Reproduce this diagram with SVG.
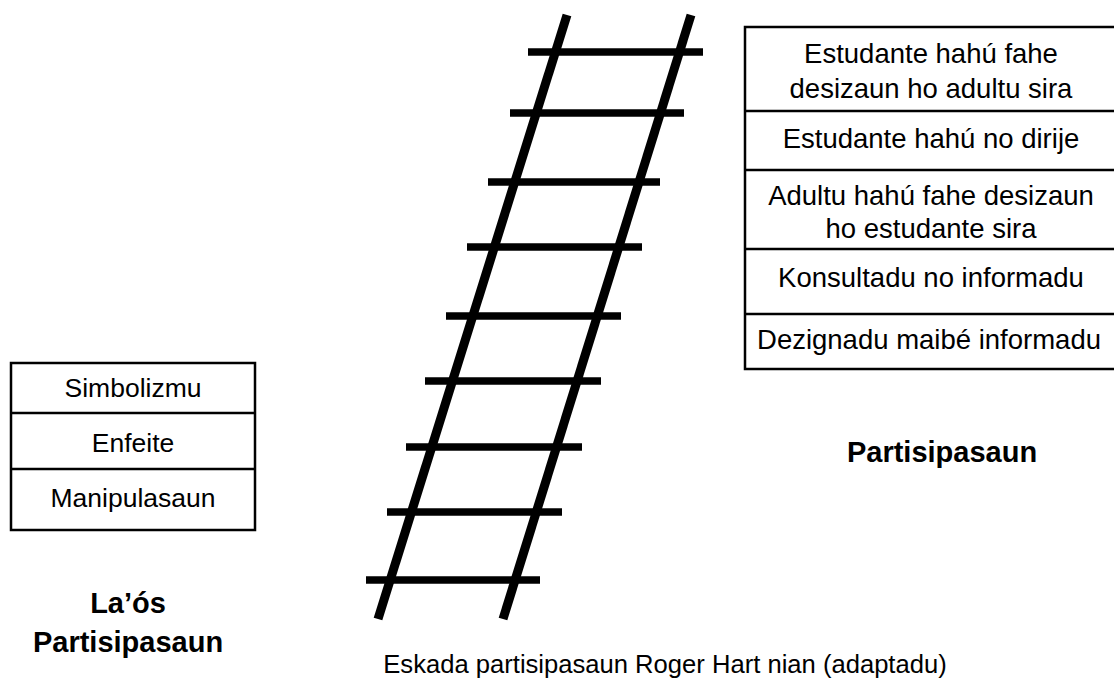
<svg xmlns="http://www.w3.org/2000/svg" width="1114" height="679" viewBox="0 0 1114 679">
<style>
.box{fill:#fff;stroke:#000;stroke-width:2.5}
.div{stroke:#000;stroke-width:2.5}
.t{font-family:"Liberation Sans",Arial,sans-serif;font-size:27.5px;fill:#000;text-anchor:middle}
.b{font-family:"Liberation Sans",Arial,sans-serif;font-size:29px;font-weight:bold;fill:#000;text-anchor:middle}
.rail{stroke:#000;stroke-width:9;stroke-linecap:butt}
.rung{stroke:#000;stroke-width:7.5;stroke-linecap:butt}
</style>
<rect width="1114" height="679" fill="#fff"/>
<g id="ladder">
<line class="rail" x1="567" y1="15" x2="378" y2="619"/>
<line class="rail" x1="691" y1="15" x2="503" y2="619"/>
<line class="rung" x1="528" y1="52" x2="703" y2="52"/>
<line class="rung" x1="510" y1="113" x2="684" y2="113"/>
<line class="rung" x1="488" y1="182" x2="660" y2="182"/>
<line class="rung" x1="467" y1="247" x2="642" y2="247"/>
<line class="rung" x1="446" y1="316" x2="621" y2="316"/>
<line class="rung" x1="425" y1="381" x2="601" y2="381"/>
<line class="rung" x1="406" y1="447" x2="582" y2="447"/>
<line class="rung" x1="387" y1="512" x2="562" y2="512"/>
<line class="rung" x1="366" y1="580" x2="540" y2="580"/>
</g>
<g id="participation-table">
<rect class="box" x="745" y="27" width="380" height="342"/>
<line class="div" x1="745" y1="111" x2="1125" y2="111"/>
<line class="div" x1="745" y1="170" x2="1125" y2="170"/>
<line class="div" x1="745" y1="249" x2="1125" y2="249"/>
<line class="div" x1="745" y1="314" x2="1125" y2="314"/>
<text class="t" x="931" y="63">Estudante hahú fahe</text>
<text class="t" x="931" y="98">desizaun ho adultu sira</text>
<text class="t" x="931" y="148">Estudante hahú no dirije</text>
<text class="t" x="931" y="205">Adultu hahú fahe desizaun</text>
<text class="t" x="931" y="238">ho estudante sira</text>
<text class="t" x="931" y="287">Konsultadu no informadu</text>
<text class="t" x="929" y="349">Dezignadu maibé informadu</text>
</g>
<g id="non-participation-table">
<rect class="box" x="11" y="363" width="244" height="167"/>
<line class="div" x1="11" y1="413" x2="255" y2="413"/>
<line class="div" x1="11" y1="469" x2="255" y2="469"/>
<text class="t" x="133" y="397" style="font-size:26.5px">Simbolizmu</text>
<text class="t" x="133" y="452" style="font-size:26.5px">Enfeite</text>
<text class="t" x="133" y="507" style="font-size:26.5px">Manipulasaun</text>
</g>
<g id="labels">
<text class="b" x="942" y="462">Partisipasaun</text>
<text class="b" x="128" y="613">La’ós</text>
<text class="b" x="128" y="652">Partisipasaun</text>
<text class="t" x="665" y="673" style="font-size:25.6px">Eskada partisipasaun Roger Hart nian (adaptadu)</text>
</g>
</svg>
